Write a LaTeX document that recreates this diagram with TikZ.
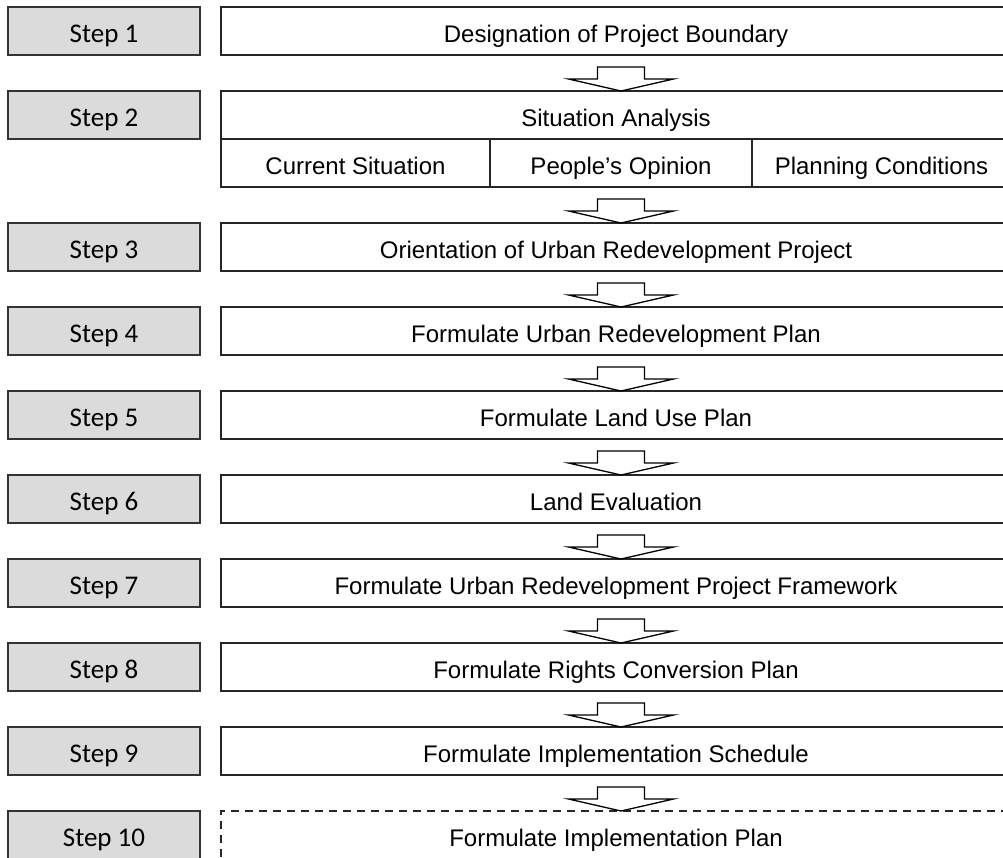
\documentclass[tikz,border=0pt]{standalone}
\usepackage{fontspec}
\newfontfamily\stepfont{Carlito}
\newfontfamily\taskfont{Liberation Sans}
\usepackage{tikz}
\usetikzlibrary{calc}

\tikzset{
  stepbox/.style={draw=black!80, fill=black!14, line width=1.2pt,
    minimum width=192pt, minimum height=48pt, inner sep=0pt, outer sep=0pt,
    text height=22pt, text depth=0pt,
    font=\stepfont\fontsize{27}{30}\selectfont},
  taskbox/.style={draw=black!85, line width=1.2pt,
    minimum width=790pt, minimum height=48pt, inner sep=0pt, outer sep=0pt,
    text height=22pt, text depth=0pt,
    font=\taskfont\fontsize{24}{28}\selectfont},
  subbox/.style={taskbox, minimum width=#1},
  flowarrow/.style={draw=black, line width=1.3pt, fill=white, line join=miter},
}

% hollow block arrow from the bottom of one box down to the next one
\newcommand{\flowto}[2]{%
  \draw[flowarrow] ($(#1.south -| axis)+(-23.5,12)$) -- ++(47,0) -- ++(0,12) -- ++(29,0)
    -- (#2.north -| axis) -- ++(-52.5,-12) -- ++(29,0) -- cycle;}

\begin{document}
\begin{tikzpicture}[x=1pt, y=-1pt]
  \useasboundingbox (0,0) rectangle (1003,857);
  \clip (0,0) rectangle (1003,857);
  \coordinate (axis) at (621,0);

  % step labels
  \node[stepbox] (s1) at (104,31) {Step 1};
  \node[stepbox] (s2) at (104,115) {Step 2};
  \node[stepbox] (s3) at (104,247) {Step 3};
  \node[stepbox] (s4) at (104,331) {Step 4};
  \node[stepbox] (s5) at (104,415) {Step 5};
  \node[stepbox] (s6) at (104,499) {Step 6};
  \node[stepbox] (s7) at (104,583) {Step 7};
  \node[stepbox] (s8) at (104,667) {Step 8};
  \node[stepbox] (s9) at (104,751) {Step 9};
  \node[stepbox] (s10) at (104,835) {Step 10};

  % tasks
  \node[taskbox] (t1) at (616,31) {Designation of Project Boundary};
  \node[taskbox] (t2) at (616,115) {Situation Analysis};
  \node[subbox=269pt] (cur) at (355.5,163) {Current Situation};
  \node[subbox=262pt] (opn) at (621,163) {People’s Opinion};
  \node[subbox=259pt] (cond) at (881.5,163) {Planning Conditions};
  \node[taskbox] (t3) at (616,247) {Orientation of Urban Redevelopment Project};
  \node[taskbox] (t4) at (616,331) {Formulate Urban Redevelopment Plan};
  \node[taskbox] (t5) at (616,415) {Formulate Land Use Plan};
  \node[taskbox] (t6) at (616,499) {Land Evaluation};
  \node[taskbox] (t7) at (616,583) {Formulate Urban Redevelopment Project Framework};
  \node[taskbox] (t8) at (616,667) {Formulate Rights Conversion Plan};
  \node[taskbox] (t9) at (616,751) {Formulate Implementation Schedule};
  \node[taskbox, dash pattern=on 8pt off 6pt] (t10) at (616,835) {Formulate Implementation Plan};

  \flowto{t1}{t2}
  \flowto{opn}{t3}
  \flowto{t3}{t4}
  \flowto{t4}{t5}
  \flowto{t5}{t6}
  \flowto{t6}{t7}
  \flowto{t7}{t8}
  \flowto{t8}{t9}
  \flowto{t9}{t10}
\end{tikzpicture}
\end{document}
